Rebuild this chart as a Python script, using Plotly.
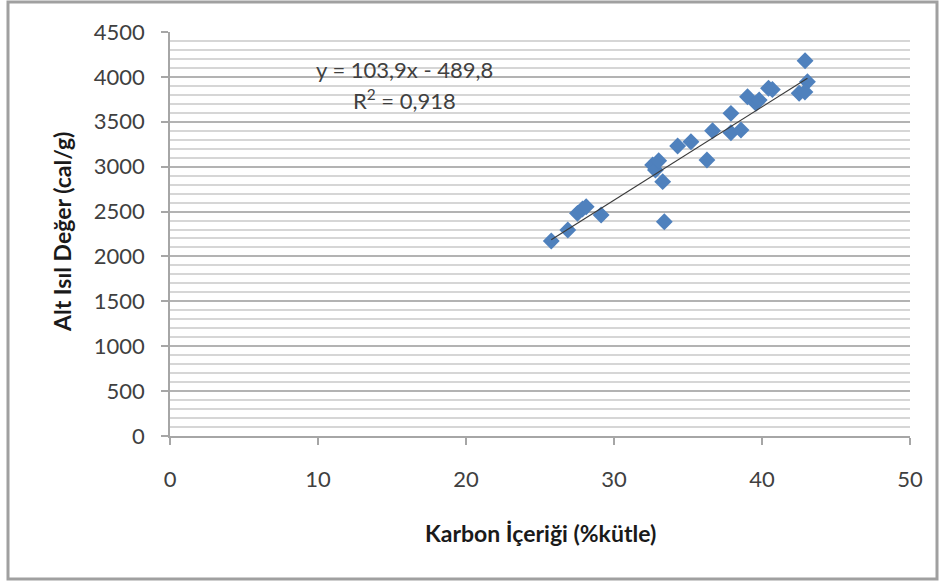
import numpy as np
import plotly.graph_objects as go

# Carbon content (% mass) and lower heating value (cal/g) of the samples
karbon = [25.76, 26.88, 27.53, 27.87, 28.12, 29.13, 33.40, 32.61, 32.80, 33.02,
          33.29, 34.30, 35.20, 36.28, 36.66, 37.90, 37.90, 38.58, 39.02, 39.59,
          39.81, 40.44, 40.70, 42.51, 42.91, 43.07, 42.90]
alt_isil = [2172, 2294, 2480, 2528, 2554, 2462, 2387, 3018, 2963, 3066,
            2833, 3230, 3278, 3074, 3400, 3594, 3378, 3408, 3779, 3705,
            3742, 3873, 3860, 3817, 4180, 3946, 3831]

# Linear trendline coefficients and coefficient of determination
egim = 103.9
kesisim = -489.8
r2 = 0.918

x_ticks = [0, 10, 20, 30, 40, 50]
y_ticks = [0, 500, 1000, 1500, 2000, 2500, 3000, 3500, 4000, 4500]

FONT = "Lato"
TICK_COLOR = "#404040"
TICK_SIZE = 22

fig = go.Figure()

# scatter points
fig.add_trace(go.Scatter(
    x=karbon, y=alt_isil, mode="markers",
    marker=dict(symbol="diamond", size=13, color="#4F81BD",
                line=dict(width=0)),
    showlegend=False, hoverinfo="x+y",
))

# trendline across the measured range
xl = np.array([min(karbon), max(karbon)])
fig.add_trace(go.Scatter(
    x=xl, y=egim * xl + kesisim, mode="lines",
    line=dict(color="#3a3a3a", width=1.2),
    showlegend=False, hoverinfo="skip",
))

W, H = 946, 583
L, R, T, B = 170, 36, 32, 147
pw, ph = W - L - R, H - T - B

def px_x(p):
    return (p - L) / pw

def px_y(p):
    return (H - B - p) / ph

def label(text, x, y, size, color, bold=False, angle=0):
    if bold:
        text = "<b>" + text + "</b>"
    return dict(text=text, x=px_x(x), y=px_y(y), xref="paper", yref="paper",
                xanchor="center", yanchor="middle", showarrow=False,
                textangle=angle,
                font=dict(family=FONT, size=size, color=color))

fig.update_layout(
    width=W, height=H,
    margin=dict(l=L, r=R, t=T, b=B),
    paper_bgcolor="white", plot_bgcolor="white",
    font=dict(family=FONT, size=TICK_SIZE, color=TICK_COLOR),
    xaxis=dict(
        range=[0, 50], tickvals=x_ticks, ticktext=[str(v) for v in x_ticks],
        showgrid=False, zeroline=False,
        showline=True, linecolor="#a6a6a6", linewidth=1.5,
        ticks="outside", ticklen=7, tickcolor="#a6a6a6", tickwidth=1.5,
        ticklabelstandoff=16,
        tickfont=dict(family=FONT, size=TICK_SIZE, color=TICK_COLOR),
    ),
    yaxis=dict(
        range=[0, 4500], tickvals=y_ticks, ticktext=[str(v) for v in y_ticks],
        showgrid=True, gridcolor="#b3b3b3", gridwidth=1.5,
        zeroline=False,
        showline=True, linecolor="#a6a6a6", linewidth=1.5,
        ticks="outside", ticklen=7, tickcolor="#a6a6a6", tickwidth=1.5,
        ticklabelstandoff=12,
        tickfont=dict(family=FONT, size=TICK_SIZE, color=TICK_COLOR),
        minor=dict(dtick=100, showgrid=True, gridcolor="#d6d6d6", gridwidth=1.5,
                   ticks=""),
    ),
    shapes=[
        # outer chart frame
        dict(type="rect", xref="paper", yref="paper",
             x0=px_x(8), x1=px_x(937), y0=px_y(579), y1=px_y(2),
             line=dict(color="#a0a0a0", width=3), layer="below"),
    ],
    annotations=[
        label("y = 103,9x - 489,8", 404, 70, TICK_SIZE, TICK_COLOR),
        label("R<sup>2</sup> = 0,918", 404, 99, TICK_SIZE, TICK_COLOR),
        label("Karbon İçeriği (%kütle)", 540, 533, 23, "#1a1a1a", bold=True),
        label("Alt Isıl Değer (cal/g)", 62, 232, 23, "#1a1a1a", bold=True,
              angle=-90),
    ],
)

fig.write_html("out.html")
